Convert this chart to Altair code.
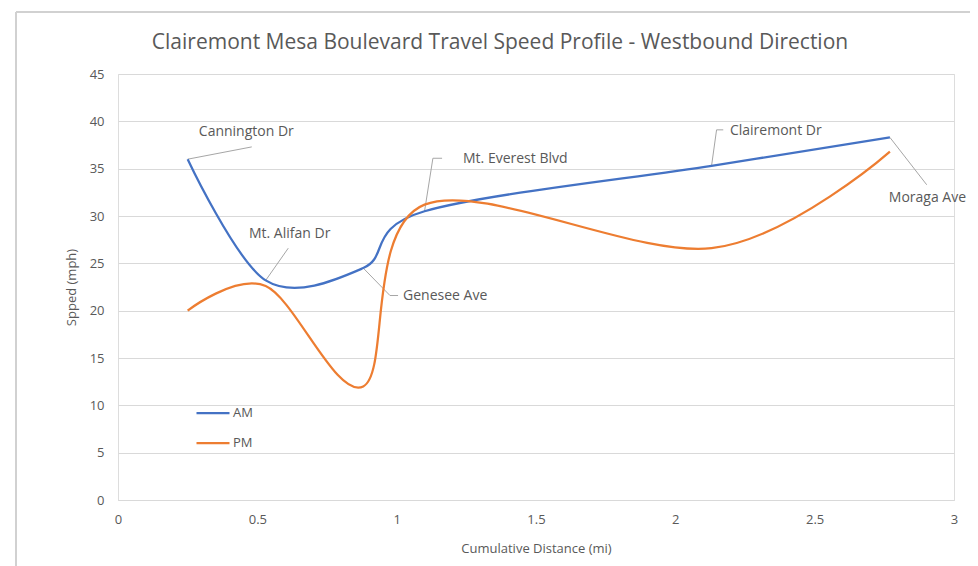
import altair as alt
import pandas as pd

# ---- data ----
title_text = ["Clairemont Mesa Boulevard Travel Speed Profile - Westbound Direction"]

dist = [0.25, 0.53, 0.88, 1.10, 2.13, 2.77]
am_speed = [36.0, 23.2, 24.5, 30.5, 35.3, 38.3]
pm_speed = [20.0, 22.6, 12.0, 31.2, 26.6, 36.8]

label_names = ["Cannington Dr", "Mt. Alifan Dr", "Genesee Ave",
               "Mt. Everest Blvd", "Clairemont Dr", "Moraga Ave"]
label_x = [0.29, 0.47, 1.023, 1.238, 2.196, 2.766]
label_y = [38.9, 28.1, 21.5, 36.0, 39.0, 31.9]

# leader-line vertices: (label, order, x, y)
leader_label = ["Cannington Dr", "Cannington Dr",
                "Mt. Alifan Dr", "Mt. Alifan Dr",
                "Genesee Ave", "Genesee Ave", "Genesee Ave",
                "Mt. Everest Blvd", "Mt. Everest Blvd", "Mt. Everest Blvd",
                "Clairemont Dr", "Clairemont Dr", "Clairemont Dr",
                "Moraga Ave", "Moraga Ave"]
leader_order = [0, 1, 0, 1, 0, 1, 2, 0, 1, 2, 0, 1, 2, 0, 1]
leader_x = [0.25, 0.48, 0.53, 0.611, 0.88, 0.976, 1.005,
            1.10, 1.130, 1.163, 2.13, 2.148, 2.172, 2.77, 2.902]
leader_y = [36.0, 37.3, 23.2, 26.6, 24.5, 21.6, 21.6,
            30.5, 36.1, 36.1, 35.3, 39.1, 39.1, 38.3, 33.3]

series = ["AM", "PM"]
colors = ["#4472C4", "#ED7D31"]

df = pd.DataFrame({
    "dist": dist * 2,
    "speed": am_speed + pm_speed,
    "period": ["AM"] * len(dist) + ["PM"] * len(dist),
})
labels_df = pd.DataFrame({"name": label_names, "x": label_x, "y": label_y})
leader_df = pd.DataFrame({"label": leader_label, "order": leader_order,
                          "x": leader_x, "y": leader_y})
title_df = pd.DataFrame({"t": title_text})

FONT = "Open Sans"
GREY = "#595959"

xscale = alt.Scale(domain=[0, 3], nice=False)
yscale = alt.Scale(domain=[0, 45], nice=False)

lines = alt.Chart(df).mark_line(interpolate="cardinal", tension=0, strokeWidth=2.25).encode(
    x=alt.X("dist:Q", scale=xscale,
            axis=alt.Axis(title="Cumulative Distance (mi)", values=[0, 0.5, 1, 1.5, 2, 2.5, 3],
                          format="~g",
                          grid=False, ticks=False, domain=True, domainColor="#d9d9d9",
                          labelPadding=13, titlePadding=16, labelFontSize=13,
                          titleFontSize=13, labelColor=GREY, titleColor=GREY,
                          labelFont=FONT, titleFont=FONT, titleFontWeight="normal",
                          labelFlush=False)),
    y=alt.Y("speed:Q", scale=yscale,
            axis=alt.Axis(title="Spped (mph)", values=list(range(0, 46, 5)),
                          grid=True, gridColor="#d9d9d9", ticks=False, domain=False,
                          labelPadding=14, titlePadding=11, labelFontSize=13,
                          titleFontSize=13, labelColor=GREY, titleColor=GREY,
                          labelFont=FONT, titleFont=FONT, titleFontWeight="normal")),
    color=alt.Color("period:N", scale=alt.Scale(domain=series, range=colors),
                    legend=alt.Legend(title=None, orient="none", legendX=77, legendY=321,
                                      symbolType="stroke", symbolSize=1089,
                                      symbolStrokeWidth=2.25, labelFontSize=13,
                                      labelColor=GREY, labelFont=FONT, rowPadding=5,
                                      labelOffset=2)),
)

leaders = alt.Chart(leader_df).mark_line(color="#a6a6a6", strokeWidth=1).encode(
    x=alt.X("x:Q", scale=xscale),
    y=alt.Y("y:Q", scale=yscale),
    detail="label:N",
    order="order:Q",
)

texts = alt.Chart(labels_df).mark_text(align="left", baseline="middle", fontSize=14,
                                       font=FONT, color=GREY).encode(
    x=alt.X("x:Q", scale=xscale),
    y=alt.Y("y:Q", scale=yscale),
    text="name:N",
)

# chart title, centred on the whole chart frame as in the reference
title = alt.Chart(title_df).mark_text(align="center", baseline="middle", fontSize=21,
                                      font=FONT, color=GREY).encode(
    x=alt.value(382), y=alt.value(-31), text="t:N")

# faint chart frame (top and left edges, as in the reference)
frame_top = alt.Chart(labels_df).mark_rule(color="#d0d0d0", strokeWidth=1.5).encode(
    x=alt.value(-102), x2=alt.value(870), y=alt.value(-62))
frame_left = alt.Chart(labels_df).mark_rule(color="#d0d0d0", strokeWidth=1.5).encode(
    x=alt.value(-102), y=alt.value(-62), y2=alt.value(500))

chart = alt.layer(frame_top, frame_left, leaders, lines, texts, title).properties(
    width=836, height=426,
    autosize=alt.AutoSizeParams(type="none"),
    padding={"left": 110, "top": 66, "right": 16, "bottom": 70},
).configure_view(stroke=None).configure(background="white")

chart.save("out.html", embed_options={"renderer": "svg", "actions": False})
